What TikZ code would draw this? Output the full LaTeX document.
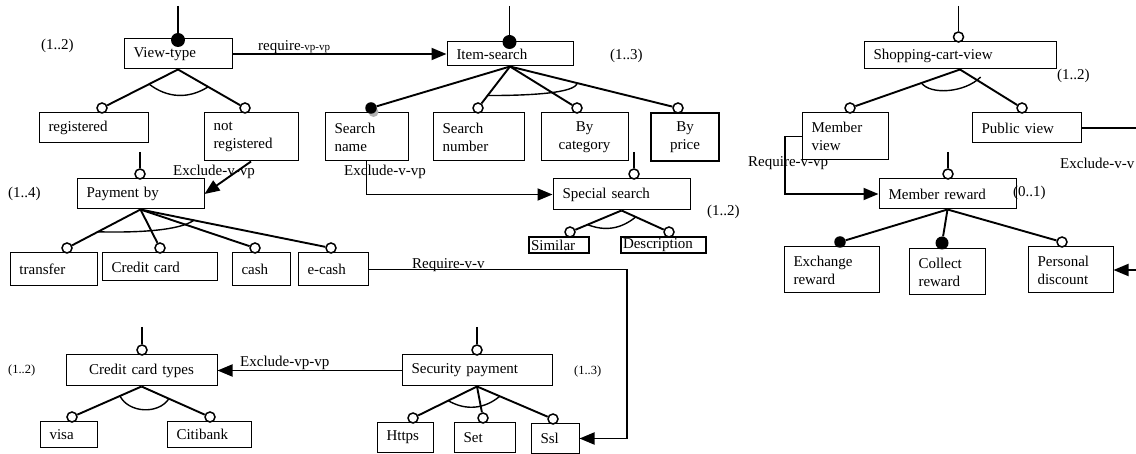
\documentclass[tikz,border=0pt]{standalone}
\usepackage{fontspec}
\setmainfont{Liberation Serif}
\usetikzlibrary{arrows.meta,calc}

\begin{document}
\begin{tikzpicture}[x=1pt,y=-1pt,
  every node/.style={font=\fontsize{15}{18}\selectfont},
  fbox/.style={draw,line width=1pt,inner xsep=9.5pt,inner ysep=0pt,align=left},
  tbox/.style={draw,line width=2.2pt,inner xsep=2pt,inner ysep=0pt,align=left},
  oc/.style={circle,draw,fill=white,line width=1.5pt,minimum size=10pt,inner sep=0pt},
  fc/.style={circle,fill=black,minimum size=11.5pt,inner sep=0pt},
  bigfc/.style={circle,fill=black,minimum size=14pt,inner sep=0pt},
  ln/.style={line width=1.9pt},
  arcln/.style={line width=1.4pt},
  conn/.style={line width=1.9pt,-{Triangle[length=15pt,width=12pt]}},
  card/.style={inner sep=0pt,anchor=west},
  smallcard/.style={inner sep=0pt,anchor=west,font=\fontsize{12.5}{14}\selectfont},
  lbl/.style={inner sep=0pt,anchor=base west},
]
\fill[white] (0,0) rectangle (1136,454);
\useasboundingbox (0,0) rectangle (1136,454);

% ---------- feature boxes ----------
\node[fbox,text width=89pt,minimum height=30pt]  (viewtype)     at (178,54)    {View-type};
\node[fbox,text width=107pt,minimum height=24pt] (itemsearch)   at (510,54)    {Item-search};
\node[fbox,text width=90pt,minimum height=30pt]  (registered)   at (93.5,128)  {registered};
\node[fbox,text width=75pt,minimum height=48pt]  (notreg)       at (251,137)   {not\\registered};
\node[fbox,text width=64pt,minimum height=48pt]  (searchname)   at (366.5,137) {Search\\name};
\node[fbox,text width=72pt,minimum height=48pt]  (searchnumber) at (478.5,137) {Search\\number};
\node[fbox,align=center,text width=68pt,minimum height=48pt] (bycategory) at (584.5,137) {By\\category};
\node[fbox,line width=2.2pt,align=center,text width=49pt,minimum height=48pt] (byprice) at (685,137) {By\\price};
\node[fbox,text width=108pt,minimum height=30pt] (paymentby)    at (140.5,194) {Payment by};
\node[fbox,text width=118pt,minimum height=31pt] (specialsearch) at (621.5,194.5) {Special search};
\node[tbox,text width=56pt,minimum height=16pt]  (similar)      at (559,245)   {Similar};
\node[tbox,text width=81pt,minimum height=16pt]  (description)  at (663.5,245) {Description};
\node[fbox,text width=68pt,minimum height=33pt]  (transfer)     at (53.5,269.5) {transfer};
\node[fbox,text width=96pt,minimum height=28pt]  (creditcard)   at (159.5,267) {Credit card};
\node[fbox,text width=39pt,minimum height=33pt]  (cash)         at (261,269.5) {cash};
\node[fbox,text width=51pt,minimum height=33pt]  (ecash)        at (333,269.5) {e-cash};
\node[fbox,align=center,text width=132pt,minimum height=31pt] (cctypes) at (141.5,370.5) {Credit card types};
\node[fbox,text width=131pt,minimum height=31pt] (securitypay)  at (477,370.5) {Security payment};
\node[fbox,text width=38pt,minimum height=25pt]  (visa)         at (68.5,434.5) {visa};
\node[fbox,text width=65pt,minimum height=25pt]  (citibank)     at (209,434.5) {Citibank};
\node[fbox,text width=37pt,minimum height=29pt]  (https)        at (405,437.5) {Https};
\node[fbox,text width=42pt,minimum height=29pt]  (set)          at (484.5,437.5) {Set};
\node[fbox,text width=29pt,minimum height=29pt]  (ssl)          at (555,438.5) {Ssl};
\node[fbox,text width=173pt,minimum height=27pt] (shopping)     at (960,55.5)  {Shopping-cart-view};
\node[fbox,text width=67pt,minimum height=47pt]  (memberview)   at (845,136.5) {Member\\view};
\node[fbox,text width=90pt,minimum height=30pt]  (publicview)   at (1026.5,128) {Public view};
\node[fbox,text width=118pt,minimum height=30pt] (memberreward) at (947.5,194) {Member reward};
\node[fbox,text width=76pt,minimum height=46pt]  (exchange)     at (831.5,270) {Exchange\\reward};
\node[fbox,text width=57pt,minimum height=46pt]  (collect)      at (947,272)   {Collect\\reward};
\node[fbox,text width=66pt,minimum height=46pt]  (personal)     at (1070.5,270) {Personal\\discount};

% ---------- mandatory / optional markers ----------
\node[bigfc] (fvt)   at (178,40)    {};
\node[bigfc] (fis)   at (509.5,42)  {};
\node[oc]    (oshop) at (958.5,37)  {};
\node[oc] (oreg)     at (102,108)   {};
\node[oc] (onotreg)  at (245,108)   {};
\node[circle,fill=black!30,minimum size=10pt,inner sep=0pt] (fsnameshade) at (373.5,112) {};
\node[fc] (fsname)   at (371,108)   {};
\node[oc] (osnum)    at (478,108)   {};
\node[oc] (obycat)   at (577,108)   {};
\node[oc] (obyprice) at (678,108)   {};
\node[oc] (opay)     at (140,174)   {};
\node[oc] (ospec)    at (634,174)   {};
\node[oc] (osimilar) at (570,232)   {};
\node[oc] (odesc)    at (669,232)   {};
\node[oc] (otransfer) at (67,248)   {};
\node[oc] (occ)      at (160,248)   {};
\node[oc] (ocash)    at (255,248)   {};
\node[oc] (oecash)   at (331,248)   {};
\node[oc] (occt)     at (142,350)   {};
\node[oc] (osec)     at (477,350)   {};
\node[oc] (ovisa)    at (72,417)    {};
\node[oc] (ociti)    at (210,417)   {};
\node[oc] (ohttps)   at (413,418)   {};
\node[oc] (oset)     at (483,418)   {};
\node[oc] (ossl)     at (553,419)   {};
\node[oc] (omv)      at (850,108)   {};
\node[oc] (opv)      at (1022,108)  {};
\node[oc] (omr)      at (948,174)   {};
\node[fc]    (fex)   at (840,242)   {};
\node[bigfc,minimum size=13pt] (fcol) at (942,243) {};
\node[oc] (opers)    at (1062,242)  {};

% ---------- stems to the parent (outside) ----------
\coordinate (svt)   at (178,6);
\coordinate (sis)   at (509.5,6);
\coordinate (sshop) at (958.5,6);
\coordinate (spay)  at (140,152);
\coordinate (sspec) at (634,152);
\coordinate (smr)   at (948,152);
\coordinate (scct)  at (142,327);
\coordinate (ssec)  at (477,327);
\draw[ln] (svt) -- (fvt);
\draw[ln] (sis) -- (fis);
\draw[ln] (sshop) -- (oshop);
\draw[ln] (spay) -- (opay);
\draw[ln] (sspec) -- (ospec);
\draw[ln] (smr) -- (omr);
\draw[ln] (scct) -- (occt);
\draw[ln] (ssec) -- (osec);

% ---------- parent-child edges ----------
\draw[ln] (viewtype.south) -- (oreg);
\draw[ln] (viewtype.south) -- (onotreg);
\draw[ln] (itemsearch.south) -- (fsname);
\draw[ln] (itemsearch.south) -- (osnum);
\draw[ln] (itemsearch.south) -- (obycat);
\draw[ln] (itemsearch.south) -- (obyprice);
\draw[ln] (paymentby.south) -- (otransfer);
\draw[ln] (paymentby.south) -- (occ);
\draw[ln] (paymentby.south) -- (ocash);
\draw[ln] (paymentby.south) -- (oecash);
\draw[ln] (specialsearch.south) -- (osimilar);
\draw[ln] (specialsearch.south) -- (odesc);
\draw[ln] (cctypes.south) -- (ovisa);
\draw[ln] (cctypes.south) -- (ociti);
\draw[ln] (securitypay.south) -- (ohttps);
\draw[ln] (securitypay.south) -- (oset);
\draw[ln] (securitypay.south) -- (ossl);
\draw[ln] (shopping.south) -- (omv);
\draw[ln] (shopping.south) -- (opv);
\draw[ln] (memberreward.south) -- (fex);
\draw[ln] (memberreward.south) -- (fcol);
\draw[ln] (memberreward.south) -- (opers);

% ---------- group arcs ----------
\draw[arcln] ($(viewtype.south)!0.38!(oreg)$) to[bend right=35] ($(viewtype.south)!0.45!(onotreg)$);
\draw[arcln] ($(itemsearch.south)!0.7!(osnum)$) .. controls +(43,0) and +(-2,10) .. ($(itemsearch.south)!0.4!(obyprice)$);
\draw[arcln] ($(paymentby.south)!0.58!(otransfer)$) .. controls +(42,1) and +(-14,10) .. ($(paymentby.south)!0.28!(oecash)$);
\draw[arcln] ($(specialsearch.south)!0.66!(osimilar)$) to[bend right=30] ($(specialsearch.south)!0.3!(odesc)$);
\draw[arcln] ($(cctypes.south)!0.31!(ovisa)$) to[bend right=60] ($(cctypes.south)!0.4!(ociti)$);
\draw[arcln] ($(securitypay.south)!0.45!(ohttps)$) to[bend right=35] ($(securitypay.south)!0.3!(ossl)$);
\draw[arcln] ($(shopping.south)!0.35!(omv)$) .. controls +(8.5,12) and +(-16,16) .. ($(shopping.south)!0.3!(opv)+(2,-4)$);

% ---------- constraint connectors ----------
\draw[conn] (viewtype.east) -- (itemsearch.west);
\draw[conn] (notreg.south) -- (paymentby.east);
\draw[conn] (searchname.south) |- (specialsearch.west);
\coordinate (rvturn) at (627,300);
\draw[conn] (ecash.east) -| (rvturn) |- (ssl.east);
\draw[conn] (securitypay.west) -- (cctypes.east);
\coordinate (rvpturn) at (785,160);
\draw[conn] (memberview.west) -| (rvpturn) |- (memberreward.west);
\coordinate (evvturn) at (1150,200);
\draw[conn] (publicview.east) -| (evvturn) |- (personal.east);

% ---------- labels ----------
\node[card] (lvt)   at (41,46)   {(1..2)};
\node[lbl]  (lreq)  at (258,51)  {require{\fontsize{11}{12}\selectfont-vp-vp}};
\node[card] (lis)   at (610,56)  {(1..3)};
\node[card] (lex1)  at (173,172) {Exclude-v-vp};
\node[card] (lpay)  at (8,194)   {(1..4)};
\node[card] (lex2)  at (344,172) {Exclude-v-vp};
\node[card] (lspec) at (707,212) {(1..2)};
\node[lbl]  (lrvv)  at (412,269) {Require-v-v};
\node[lbl]  (lexvp) at (240,367) {Exclude-vp-vp};
\node[smallcard] (lcct) at (8,370)   {(1..2)};
\node[smallcard] (lsec) at (574,371) {(1..3)};
\node[card] (lshop) at (1057,76) {(1..2)};
\node[card] (lrvp)  at (748,163) {Require-v-vp};
\node[card] (levv)  at (1060,163) {Exclude-v-v};
\node[card] (lmr)   at (1013,193) {(0..1)};
\end{tikzpicture}
\end{document}
